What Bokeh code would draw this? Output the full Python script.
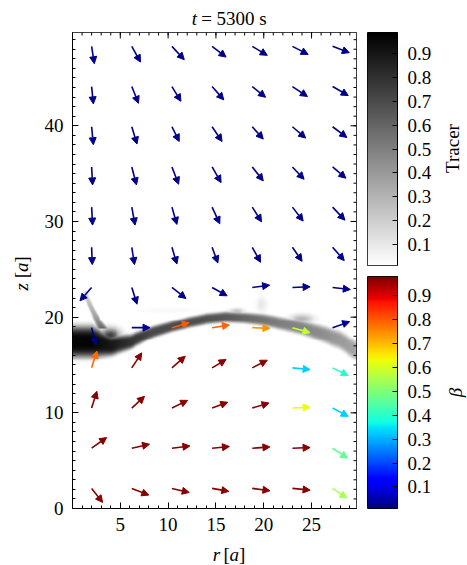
import numpy as np
from bokeh.plotting import figure
from bokeh.layouts import row, column
from bokeh.models import (Range1d, FixedTicker, LinearColorMapper,
                          ColumnDataSource, Arrow, NormalHead)
from bokeh.core.properties import field, value
from bokeh.embed import file_html
from bokeh.resources import INLINE

FONT = "Liberation Serif"
FS = "19px"

# ---------------- data ----------------
title_parts = ["t", "=", "5300 s"]
x_ticks = [5, 10, 15, 20, 25]
y_ticks = [0, 10, 20, 30, 40]
cb_ticks = [0.1, 0.2, 0.3, 0.4, 0.5, 0.6, 0.7, 0.8, 0.9]

r_grid = [2.0, 6.2, 10.4, 14.6, 18.8, 23.0, 27.2]
z_grid = [48.3, 44.1, 39.9, 35.7, 31.5, 27.3, 23.1, 18.9, 14.7, 10.5, 6.3, 2.1]

u_rows = [
    [0.28, 0.91, 1.29, 1.46, 1.57, 1.64, 1.75],
    [0.18, 0.70, 0.94, 1.22, 1.39, 1.57, 1.64],
    [0.18, 0.55, 0.76, 1.04, 1.15, 1.39, 1.49],
    [0.10, 0.49, 0.70, 0.94, 1.15, 1.22, 1.39],
    [0.10, 0.34, 0.52, 0.80, 0.97, 1.12, 1.29],
    [0.07, 0.28, 0.52, 0.60, 0.87, 1.01, 1.22],
    [-1.22, 0.55, 1.46, 1.57, 1.81, 1.85, 1.85],
    [0.45, 1.91, 1.81, 1.81, 1.85, 1.85, 1.78],
    [0.55, 1.04, 1.39, 1.46, 1.57, 1.85, 1.64],
    [0.55, 1.33, 1.64, 1.64, 1.75, 1.85, 1.64],
    [1.57, 1.85, 1.88, 1.81, 1.85, 1.85, 1.57],
    [1.15, 1.78, 1.81, 1.75, 1.85, 1.85, 1.49],
]
w_rows = [
    [-1.81, -1.64, -1.39, -1.12, -0.94, -0.84, -0.66],
    [-1.81, -1.75, -1.54, -1.39, -1.12, -1.04, -0.94],
    [-1.88, -1.81, -1.54, -1.54, -1.29, -1.18, -1.12],
    [-1.88, -1.88, -1.81, -1.64, -1.46, -1.29, -1.18],
    [-1.88, -1.88, -1.81, -1.75, -1.54, -1.46, -1.36],
    [-1.81, -1.81, -1.75, -1.64, -1.57, -1.46, -1.39],
    [-1.39, -1.75, -1.15, -0.87, 0.24, 0.07, -0.21],
    [-1.81, 0.00, 0.52, 0.28, -0.07, -0.52, 0.63],
    [1.75, 1.57, 1.22, 0.87, 0.80, -0.18, -0.80],
    [1.75, 1.22, 0.80, 0.60, 0.52, 0.10, -0.87],
    [1.12, 0.42, 0.24, 0.18, 0.14, 0.07, -1.04],
    [-1.46, -0.70, -0.42, -0.31, -0.24, -0.18, -1.01],
]
beta_rows = [
    [0.02, 0.02, 0.02, 0.02, 0.02, 0.02, 0.02],
    [0.02, 0.02, 0.02, 0.02, 0.02, 0.02, 0.02],
    [0.02, 0.02, 0.02, 0.02, 0.02, 0.02, 0.02],
    [0.02, 0.02, 0.02, 0.02, 0.02, 0.02, 0.02],
    [0.02, 0.02, 0.02, 0.02, 0.02, 0.02, 0.02],
    [0.02, 0.02, 0.02, 0.02, 0.02, 0.02, 0.02],
    [0.02, 0.02, 0.02, 0.02, 0.02, 0.02, 0.02],
    [0.02, 0.03, 0.80, 0.79, 0.74, 0.58, 0.03],
    [0.78, 0.97, 0.97, 0.97, 0.97, 0.33, 0.40],
    [0.97, 0.97, 0.97, 0.97, 0.97, 0.63, 0.33],
    [0.97, 0.97, 0.97, 0.97, 0.97, 0.97, 0.46],
    [0.97, 0.97, 0.97, 0.97, 0.97, 0.97, 0.55],
]

# tracer: main jet band (centre line, half width, level)
band_r = [0, 2, 4, 6, 8, 10, 12, 14, 16, 18, 20, 22, 24, 26, 28, 30]
band_z = [17.4, 17.4, 17.0, 17.4, 18.3, 18.9, 19.4, 19.8, 20.0, 19.9, 19.7, 19.3, 18.9, 18.3, 17.6, 16.3]
band_hw = [1.6, 1.6, 1.0, 0.75, 0.6, 0.55, 0.55, 0.55, 0.55, 0.55, 0.6, 0.65, 0.7, 0.8, 0.9, 1.0]
band_val = [0.97, 0.97, 0.9, 0.8, 0.72, 0.7, 0.7, 0.68, 0.65, 0.6, 0.55, 0.5, 0.48, 0.45, 0.4, 0.35]
# tracer: rising plume near the axis
plume_z = [18.8, 19.6, 20.4, 21.2, 22.0, 22.8]
plume_r = [3.1, 2.6, 2.2, 1.8, 1.5, 1.3]
plume_hw = [0.6, 0.4, 0.3, 0.26, 0.24, 0.22]
plume_val = [0.6, 0.45, 0.34, 0.28, 0.22, 0.1]
# tracer: faint wisps
wisp_r = [10.0, 19.8, 24.0, 17.2, 3.9]
wisp_z = [20.7, 21.3, 19.8, 20.6, 18.1]
wisp_sr = [3.5, 0.6, 1.2, 0.8, 1.0]
wisp_sz = [0.3, 0.9, 0.5, 0.3, 0.7]
wisp_val = [0.04, 0.1, 0.3, 0.25, 0.75]

X_MAX, Y_MAX = 29.7, 49.75
TR_LO, TR_HI = 0.01, 0.99
BE_LO, BE_HI = 0.01, 0.98

# ---------------- colour maps ----------------
def jet(n=256):
    x = np.linspace(0, 1, n)
    r = np.interp(x, [0, 0.35, 0.66, 0.89, 1], [0, 0, 1, 1, 0.5])
    g = np.interp(x, [0, 0.125, 0.375, 0.64, 0.91, 1], [0, 0, 1, 1, 0, 0])
    b = np.interp(x, [0, 0.11, 0.34, 0.65, 1], [0.5, 1, 1, 0, 0])
    return ["#%02x%02x%02x" % (int(255 * a), int(255 * c), int(255 * d)) for a, c, d in zip(r, g, b)]

JET = jet()
GRAY = ["#%02x%02x%02x" % (v, v, v) for v in np.linspace(255, 0, 256).astype(int)]
gray_mapper = LinearColorMapper(palette=GRAY, low=TR_LO, high=TR_HI)
jet_mapper = LinearColorMapper(palette=JET, low=BE_LO, high=BE_HI)

# ---------------- tracer field ----------------
nx, ny = 300, 500
rr = np.linspace(0, X_MAX, nx)
zz = np.linspace(0, Y_MAX, ny)
R, Z = np.meshgrid(rr, zz)
bz = np.interp(R, band_r, band_z)
bh = np.interp(R, band_r, band_hw)
bv = np.interp(R, band_r, band_val)
img = bv * np.exp(-((Z - bz) / bh) ** 4)
pr = np.interp(Z, plume_z, plume_r)
ph = np.interp(Z, plume_z, plume_hw)
pv = np.interp(Z, plume_z, plume_val, left=0, right=0)
img = np.maximum(img, pv * np.exp(-((R - pr) / ph) ** 4))
for a, b, sa, sb, v in zip(wisp_r, wisp_z, wisp_sr, wisp_sz, wisp_val):
    img = np.maximum(img, v * np.exp(-((R - a) / sa) ** 2 - ((Z - b) / sb) ** 2))


def blank(w, h, xr, yr):
    f = figure(width=w, height=h, x_range=Range1d(*xr), y_range=Range1d(*yr),
               output_backend="svg", toolbar_location=None,
               x_axis_location=None, y_axis_location=None,
               min_border_left=0, min_border_right=0, min_border_top=0, min_border_bottom=0)
    f.grid.visible = False
    f.outline_line_color = None
    return f


def txt(f, x, y, t, italic=False, angle=0.0, align="left", base="alphabetic"):
    f.text(x=[x], y=[y], text=[t], angle=angle, text_align=align, text_baseline=base,
           text_font=value(FONT), text_font_size=FS,
           text_font_style="italic" if italic else "normal", text_color="black")


# ---------------- main figure ----------------
p = figure(width=330, height=506, x_range=Range1d(0, X_MAX), y_range=Range1d(0, Y_MAX),
           output_backend="svg", toolbar_location=None,
           min_border_left=40, min_border_right=6, min_border_top=0, min_border_bottom=30)
p.grid.visible = False
p.outline_line_color = "black"
p.background_fill_color = "white"

p.image(image=[img], x=0, y=0, dw=X_MAX, dh=Y_MAX, color_mapper=gray_mapper)

x0, y0, x1, y1, cols = [], [], [], [], []
for j, z in enumerate(z_grid):
    for i, r in enumerate(r_grid):
        x0.append(r); y0.append(z)
        x1.append(r + u_rows[j][i]); y1.append(z + w_rows[j][i])
        k = int(np.clip((beta_rows[j][i] - BE_LO) / (BE_HI - BE_LO), 0, 0.999) * 256)
        cols.append(JET[k])
src = ColumnDataSource(dict(x0=x0, y0=y0, x1=x1, y1=y1, c=cols))
head = NormalHead(size=7, fill_color=field("c"), line_color=field("c"), line_width=1)
p.add_layout(Arrow(end=head, source=src, x_start="x0", y_start="y0", x_end="x1", y_end="y1",
                   line_color=field("c"), line_width=1.6))

x_minor = list(range(0, 30))
y_minor = list(range(0, 50))
for ax, tk, mn in ((p.xaxis[0], x_ticks, x_minor), (p.yaxis[0], y_ticks, y_minor)):
    ax.ticker = FixedTicker(ticks=tk, minor_ticks=mn)
    ax.major_tick_in = 6
    ax.major_tick_out = 0
    ax.minor_tick_in = 3
    ax.minor_tick_out = 0
    ax.axis_line_color = "black"
    ax.major_label_text_font = FONT
    ax.major_label_text_font_size = FS
    ax.major_label_text_color = "black"
    ax.major_label_standoff = 9

# mirrored ticks on top and right edges (half of each dash is clipped by the frame)
p.scatter(x=x_ticks, y=[Y_MAX] * len(x_ticks), marker="dash", size=12, angle=np.pi / 2,
          line_color="black", line_width=1)
p.scatter(x=x_minor, y=[Y_MAX] * len(x_minor), marker="dash", size=6, angle=np.pi / 2,
          line_color="black", line_width=1)
p.scatter(x=[X_MAX] * len(y_ticks), y=y_ticks, marker="dash", size=12,
          line_color="black", line_width=1)
p.scatter(x=[X_MAX] * len(y_minor), y=y_minor, marker="dash", size=6,
          line_color="black", line_width=1)

# ---------------- text strips ----------------
title_fig = blank(330, 32, (0, 330), (32, 0))
txt(title_fig, 138.7, 18, title_parts[0], italic=True)
txt(title_fig, 149.7, 18, title_parts[1])
txt(title_fig, 167.3, 18, title_parts[2])

# x label strip: page rows 538..565, y measured upward from the page bottom
xlab_fig = blank(330, 27, (0, 330), (0, 27))
txt(xlab_fig, 163.0, 11, "r", italic=True, base="middle")
txt(xlab_fig, 175.5, 11, "[", base="middle")
txt(xlab_fig, 182.5, 11, "a", italic=True, base="middle")
txt(xlab_fig, 193.5, 11, "]", base="middle")

ang = np.pi / 2
ylab_fig = blank(32, 565, (0, 32), (0, 565))
txt(ylab_fig, 21, 278.7, "z", italic=True, angle=ang, align="center", base="middle")
txt(ylab_fig, 21, 290.3, "[", angle=ang, align="center", base="middle")
txt(ylab_fig, 21, 298.2, "a", italic=True, angle=ang, align="center", base="middle")
txt(ylab_fig, 21, 306.0, "]", angle=ang, align="center", base="middle")

cblab_fig = blank(33, 565, (0, 33), (0, 565))
txt(cblab_fig, 18, 417, "Tracer", angle=ang, align="center", base="middle")
txt(cblab_fig, 21, 173, "β", italic=True, angle=ang, align="center", base="middle")

# ---------------- colour bars ----------------
def colorbar(height, top, bottom, mapper, lo, hi):
    f = figure(width=72, height=height, x_range=Range1d(0, 1), y_range=Range1d(lo, hi),
               output_backend="svg", toolbar_location=None, x_axis_location=None,
               y_axis_location="right", min_border_left=5, min_border_right=36,
               min_border_top=top, min_border_bottom=bottom)
    f.grid.visible = False
    f.outline_line_color = "black"
    grad = np.linspace(lo, hi, 256).reshape(256, 1)
    f.image(image=[grad], x=0, y=lo, dw=1, dh=hi - lo, color_mapper=mapper)
    ax = f.yaxis[0]
    ax.ticker = FixedTicker(ticks=cb_ticks, minor_ticks=[])
    ax.major_tick_in = 5
    ax.major_tick_out = 0
    ax.axis_line_color = "black"
    ax.major_label_text_font = FONT
    ax.major_label_text_font_size = FS
    ax.major_label_text_color = "black"
    ax.major_label_standoff = 10
    return f

cb1 = colorbar(270, 32, 5, gray_mapper, TR_LO, TR_HI)
cb2 = colorbar(295, 6, 57, jet_mapper, BE_LO, BE_HI)

layout = row(ylab_fig, column(title_fig, p, xlab_fig), column(cb1, cb2), cblab_fig)
open("out.html", "w").write(file_html(layout, INLINE))
